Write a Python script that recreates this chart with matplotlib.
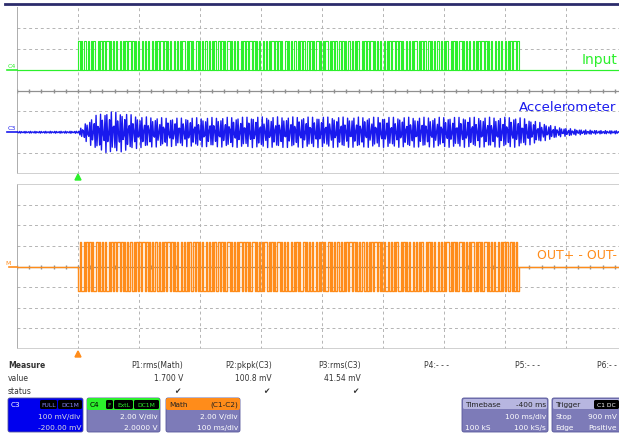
import numpy as np
import matplotlib
matplotlib.use("Agg")
import matplotlib.pyplot as plt
from matplotlib.patches import FancyBboxPatch, Polygon

# ═══ data (time in divisions, 100 ms/div) ═══
BURST_START = 1.0
BURST_STOP = 8.21

INPUT_LOW, INPUT_HIGH = 5.0, 6.36          # C4, top grid, divisions
ACCEL_BASE = 2.0                           # C3, top grid
ACCEL_ENV_T = [0.0, 1.0, 1.11, 1.28, 1.49, 1.69, 2.02, 2.5, 4.0, 6.5, 8.21, 8.41, 8.66, 8.9, 9.23, 9.56, 10.0]
ACCEL_ENV_A = [0.04, 0.05, 0.4, 0.8, 1.0, 0.95, 0.75, 0.68, 0.74, 0.72, 0.72, 0.6, 0.4, 0.22, 0.12, 0.08, 0.07]
OUT_BASE = 4.0                             # Math, bottom grid
OUT_HI, OUT_LO = 1.2, -1.2

MEAS_NAMES = ["P1:rms(Math)", "P2:pkpk(C3)", "P3:rms(C3)", "P4:- - -", "P5:- - -", "P6:- -"]
MEAS_VALUES = ["1.700 V", "100.8 mV", "41.54 mV", "", "", ""]
MEAS_STATUS = [True, True, True, False, False, False]

W, H = 619, 435
GREEN, BLUE, ORANGE = "#2cf02c", "#1a1aee", "#ff8c1a"
GRID = "#b4b4b4"
PANEL = "#7d7bb8"

fig = plt.figure(figsize=(W / 100, H / 100), dpi=100, facecolor="white")

def px_axes(x0, y0, x1, y1, **kw):
    return fig.add_axes([x0 / W, 1 - y1 / H, (x1 - x0) / W, (y1 - y0) / H], **kw)

def scope_grid(ax):
    ax.set_xlim(0, 10)
    ax.set_ylim(0, 8)
    ax.axis("off")
    for x in range(1, 10):
        ax.axvline(x, color=GRID, lw=0.7, ls=(0, (3, 3)), zorder=0)
    for y in range(1, 8):
        if y == 4:
            ax.axhline(y, color="#909090", lw=0.9, zorder=0)
        else:
            ax.axhline(y, color=GRID, lw=0.7, ls=(0, (3, 3)), zorder=0)
    mx = np.arange(0, 10.01, 0.2)
    ax.plot(mx, np.full_like(mx, 4), ls="none", marker="|", ms=3, color="#909090", zorder=0)
    ax.plot([0, 0], [0, 8], color="#a0a0a0", lw=1.2, zorder=1)
    ax.plot([0, 10], [0, 0], color="#c8c8c8", lw=1.2, zorder=1)

# scope record: fast carrier sampled coarsely -> aliased stroke pattern
n = 440
t = np.linspace(0, 10, n)
k = np.arange(n)
on = (t >= BURST_START) & (t <= BURST_STOP)

# ═══ top grid: Input + Accelerometer ═══
ax1 = px_axes(17, 8, 627, 175)
scope_grid(ax1)
sq = np.where(np.sin(2 * np.pi * 0.437 * k + 0.3) >= 0, INPUT_HIGH, INPUT_LOW)
green = np.where(on, sq, INPUT_LOW)
ax1.plot(t, green, color=GREEN, lw=0.8, drawstyle="steps-post", zorder=3)
ax1.plot([0, 10], [INPUT_LOW, INPUT_LOW], color=GREEN, lw=0.8, zorder=2)

tb = np.linspace(0, 10, 680)
env = np.interp(tb, ACCEL_ENV_T, ACCEL_ENV_A)
accel = ACCEL_BASE + env * np.sin(2 * np.pi * 0.411 * np.arange(tb.size) + 0.4)
ax1.plot(tb, accel, color=BLUE, lw=1.0, zorder=3)
ax1.text(9.84, 5.5, "Input", color=GREEN, fontsize=10, ha="right", va="center")
ax1.text(9.82, 3.25, "Accelerometer", color=BLUE, fontsize=9.5, ha="right", va="center")

# ═══ bottom grid: OUT+ - OUT- ═══
ax2 = px_axes(17, 185, 627, 350)
scope_grid(ax2)
ax2.plot([0, 10], [8, 8], color="#c8c8c8", lw=1.2, zorder=1)
osq = np.where(np.sin(2 * np.pi * 0.443 * k + 1.0) >= 0, OUT_HI, OUT_LO)
orange = OUT_BASE + np.where(on, osq, 0.0)
ax2.plot(t, orange, color=ORANGE, lw=1.0, drawstyle="steps-post", zorder=3)
ax2.text(9.84, 4.6, "OUT+ - OUT-", color=ORANGE, fontsize=9, ha="right", va="center")

# ═══ overlay in pixel coordinates ═══
ov = fig.add_axes([0, 0, 1, 1], facecolor="none")
ov.set_xlim(0, W)
ov.set_ylim(H, 0)
ov.axis("off")
ov.plot([5, W], [5, 5], color="#2b2b6b", lw=2)

# channel markers on the left
ov.plot([7, 17], [71, 71], color=GREEN, lw=1.2)
ov.text(8, 69, "C4", color=GREEN, fontsize=4.5, va="bottom")
ov.plot([7, 17], [133, 133], color=BLUE, lw=1.2)
ov.text(8, 131, "C3", color=BLUE, fontsize=4.5, va="bottom")
ov.plot([9, 17], [268, 268], color=ORANGE, lw=1.2)
ov.text(5, 266, "M", color=ORANGE, fontsize=4.5, va="bottom")

# trigger position markers
ov.add_patch(Polygon([[75, 181], [81, 181], [78, 175]], color=GREEN))
ov.add_patch(Polygon([[75, 358], [81, 358], [78, 352]], color=ORANGE))

# measurement table
TXT = "#333333"
ov.text(8, 366, "Measure", fontsize=5.5, fontweight="bold", color=TXT, va="center")
ov.text(8, 379, "value", fontsize=5.5, color=TXT, va="center")
ov.text(8, 392, "status", fontsize=5.5, color=TXT, va="center")
meas_x = [183, 272, 361, 449, 540, 617]
for name, val, ok, x in zip(MEAS_NAMES, MEAS_VALUES, MEAS_STATUS, meas_x):
    ov.text(x, 366, name, fontsize=5.5, color=TXT, ha="right", va="center")
    if val:
        ov.text(x, 379, val, fontsize=5.5, color=TXT, ha="right", va="center")
    if ok:
        ov.text(x - 3, 392, "\u2714", fontsize=5.5, color=TXT, ha="right", va="center")

def box(x0, x1, fill, y0=399, y1=433):
    ov.add_patch(FancyBboxPatch((x0, y0), x1 - x0, y1 - y0, boxstyle="round,pad=0,rounding_size=2",
                                fc=fill, ec="#555599", lw=0.6))

def tag(x0, x1, y0, y1, fill, label, color):
    ov.add_patch(FancyBboxPatch((x0, y0), x1 - x0, y1 - y0, boxstyle="round,pad=0,rounding_size=1.5",
                                fc=fill, ec="none"))
    ov.text((x0 + x1) / 2, (y0 + y1) / 2, label, fontsize=4.3, color=color, ha="center", va="center")

FS = 5.3
# C3
box(8, 83, "#0000ee")
ov.text(11, 405, "C3", fontsize=FS, color="white", va="center")
tag(40, 57, 401, 410, "black", "FULL", "#8888ff")
tag(58, 82, 401, 410, "black", "DC1M", "#8888ff")
ov.text(81, 417, "100 mV/div", fontsize=FS, color="#dddddd", ha="right", va="center")
ov.text(81, 428, "-200.00 mV", fontsize=FS, color="#dddddd", ha="right", va="center")
# C4
box(87, 160, PANEL)
ov.add_patch(FancyBboxPatch((87, 399), 73, 12, boxstyle="round,pad=0,rounding_size=2", fc=GREEN, ec="none"))
ov.text(90, 405, "C4", fontsize=FS, color="black", va="center")
tag(106, 113, 401, 410, "black", "F", GREEN)
tag(114, 133, 401, 410, "black", "ExtL", GREEN)
tag(134, 159, 401, 410, "black", "DC1M", GREEN)
ov.text(158, 417, "2.00 V/div", fontsize=FS, color="white", ha="right", va="center")
ov.text(158, 428, "2.0000 V", fontsize=FS, color="white", ha="right", va="center")
# Math
box(166, 240, PANEL)
ov.add_patch(FancyBboxPatch((166, 399), 74, 12, boxstyle="round,pad=0,rounding_size=2", fc=ORANGE, ec="none"))
ov.text(169, 405, "Math", fontsize=FS, color="#222222", va="center")
ov.text(238, 405, "(C1-C2)", fontsize=FS, color="#222222", ha="right", va="center")
ov.text(238, 417, "2.00 V/div", fontsize=FS, color="white", ha="right", va="center")
ov.text(238, 428, "100 ms/div", fontsize=FS, color="white", ha="right", va="center")
# Timebase
box(462, 548, PANEL)
ov.add_patch(FancyBboxPatch((463, 400), 84, 10, boxstyle="round,pad=0,rounding_size=1.5", fc="#b7b6e0", ec="none"))
ov.text(465, 405, "Timebase", fontsize=FS, color="#222222", va="center")
ov.text(546, 405, "-400 ms", fontsize=FS, color="#222222", ha="right", va="center")
ov.text(546, 417, "100 ms/div", fontsize=FS, color="white", ha="right", va="center")
ov.text(465, 428, "100 kS", fontsize=FS, color="white", va="center")
ov.text(546, 428, "100 kS/s", fontsize=FS, color="white", ha="right", va="center")
# Trigger
box(552, 640, PANEL)
ov.add_patch(FancyBboxPatch((553, 400), 86, 10, boxstyle="round,pad=0,rounding_size=1.5", fc="#b7b6e0", ec="none"))
ov.text(555, 405, "Trigger", fontsize=FS, color="#222222", va="center")
tag(594, 619, 401, 410, "black", "C1 DC", "white")
ov.text(617, 417, "900 mV", fontsize=FS, color="white", ha="right", va="center")
ov.text(555, 417, "Stop", fontsize=FS, color="white", va="center")
ov.text(555, 428, "Edge", fontsize=FS, color="white", va="center")
ov.text(617, 428, "Positive", fontsize=FS, color="white", ha="right", va="center")

fig.savefig("out.png", dpi=100, facecolor="white")
